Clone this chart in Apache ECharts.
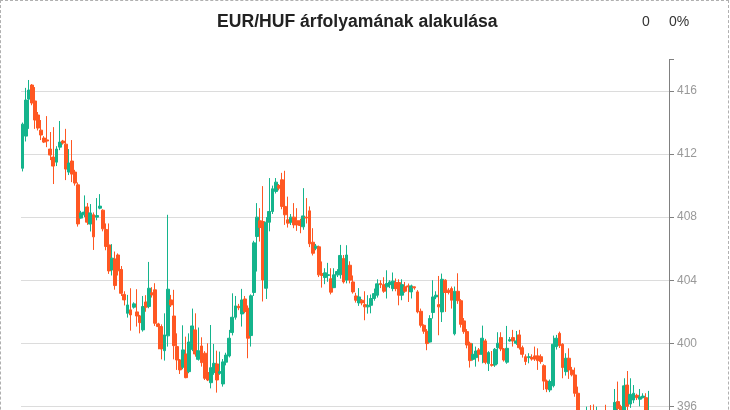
<!DOCTYPE html>
<html><head><meta charset="utf-8">
<script src="https://cdn.jsdelivr.net/npm/echarts@6/dist/echarts.min.js"></script>
<style>
html,body{margin:0;padding:0;overflow:hidden;background:#fff;}
#chart{width:729px;height:500px;box-sizing:border-box;border:1px dashed #b0b0b0;}
</style></head><body><div id="chart"></div>
<script>
const titleText = 'EUR/HUF árfolyamának alakulása';
const changeValue = '0';
const changePercent = '0%';
const yMin = 392, yMax = 418, yStep = 4;
const yTickValues = [392, 396, 400, 404, 408, 412, 416, 418];
const yLabelValues = [392, 396, 400, 404, 408, 412, 416];

const opens = [
411.1,413.14,415.49,416.38,415.37,414.48,413.52,413.02,412.9,412.32,
411.81,411.49,412.44,412.83,412.63,410.86,411.56,410.86,410.05,407.94,
408.15,408.65,407.56,408.15,408.0,408.57,408.44,407.22,406.24,404.65,
405.35,405.6,404.68,403.1,401.9,402.12,402.29,401.99,401.73,400.85,
402.62,402.33,403.2,403.39,401.23,401.06,399.53,400.47,402.75,401.73,
399.79,398.94,398.48,399.32,398.2,399.62,400.85,398.98,399.83,399.37,
398.14,397.5,398.14,398.69,398.1,397.42,398.8,399.2,400.68,401.65,
402.35,401.86,402.81,402.22,400.49,403.22,406.77,407.77,407.72,403.49,
407.68,408.36,409.63,410.01,410.37,408.68,407.83,407.68,408.0,407.77,
407.77,407.39,408.0,408.4,406.41,406.03,406.12,404.42,404.17,404.3,
404.09,403.53,404.34,404.34,405.38,404.0,404.95,403.89,403.0,402.56,
402.73,402.45,402.31,402.41,402.84,403.05,403.79,403.72,403.58,403.72,
403.47,403.85,403.85,403.05,403.58,403.64,403.26,403.58,403.26,402.03,
401.14,400.76,400.08,401.95,402.94,402.45,401.99,404.0,403.37,403.47,
400.6,403.3,402.7,401.42,400.74,400.0,398.98,399.09,399.58,399.3,
400.15,398.71,398.65,398.62,399.72,400.36,399.64,398.8,400.15,400.36,
400.0,400.53,399.72,399.15,399.09,399.1,399.2,399.2,399.15,398.58,
397.6,397.04,397.31,399.79,400.63,399.94,398.2,399.05,398.3,397.99,
396.83,395.3,395.0,395.3,395.6,395.5,395.1,395.4,395.1,395.3,
395.0,395.2,395.3,396.3,395.98,395.5,397.35,396.15,396.4,396.7,
396.45,396.55,396.55,395.2,395.5,395.0,394.6,394.9,394.4,394.0
];
const closes = [
413.9,415.43,416.06,415.24,414.16,413.65,413.21,412.76,412.83,411.94,
411.24,412.32,412.76,412.7,411.05,411.43,410.73,410.16,407.57,408.27,
408.32,407.68,408.27,406.75,408.1,408.7,407.26,406.14,404.59,405.4,
403.66,404.6,403.17,402.75,402.43,401.8,402.5,401.73,401.31,402.33,
402.29,403.49,403.07,401.27,401.06,399.64,400.53,403.43,402.43,399.85,
398.94,398.31,399.58,397.82,400.08,401.1,399.32,399.53,398.77,397.78,
397.67,398.45,398.73,397.67,398.2,398.82,399.25,400.32,401.65,402.37,
402.25,402.75,402.01,400.32,403.01,406.37,408.0,407.34,404.02,407.68,
408.36,409.8,410.22,409.84,408.68,408.15,407.62,408.0,407.51,407.51,
407.47,408.08,407.95,406.31,405.71,406.16,404.34,404.3,404.47,404.35,
403.24,404.34,404.55,405.57,403.89,405.6,404.0,403.26,402.73,402.94,
402.56,402.31,402.41,402.84,403.15,403.77,403.72,403.3,403.79,403.89,
403.94,403.47,403.05,403.72,403.3,403.58,403.64,403.52,401.99,401.14,
400.76,399.98,401.57,402.94,403.05,402.31,404.06,403.22,403.22,402.73,
403.3,402.7,401.2,400.74,399.89,398.9,399.3,399.51,399.3,400.32,
398.79,399.41,398.6,399.62,400.0,399.64,398.94,399.68,400.23,400.15,
400.15,399.72,399.3,398.84,399.15,399.0,399.0,398.9,398.84,397.6,
397.1,397.57,399.94,400.32,399.85,398.46,399.05,398.31,398.0,396.83,
395.3,395.0,395.4,395.6,395.3,395.1,395.5,395.1,394.9,395.0,
395.2,395.3,396.25,395.87,395.4,397.3,396.0,396.76,396.83,396.55,
396.6,396.65,395.5,395.6,395.0,394.6,394.9,394.4,394.0,394.3
];
const lows = [
410.9,412.8,413.6,415.1,413.6,413.5,412.89,412.7,412.44,411.62,
410.1,411.24,412.25,412.6,410.35,410.67,410.22,410.0,407.4,407.9,
408.0,407.51,407.09,405.92,407.8,408.5,407.1,405.9,404.4,404.3,
403.4,404.3,403.0,402.4,401.63,400.8,402.2,401.06,400.63,400.74,
402.0,402.22,402.9,401.1,399.62,398.98,398.9,399.79,402.3,398.98,
398.31,398.05,398.35,397.78,398.1,399.5,399.15,398.9,398.52,397.67,
397.6,397.14,398.0,396.87,398.0,397.25,398.6,399.1,400.5,401.5,
402.1,401.06,401.9,399.05,399.79,403.0,404.55,406.45,402.65,402.81,
407.1,408.2,409.5,409.7,408.5,407.51,407.34,407.5,407.3,407.13,
406.98,407.2,407.6,406.1,405.57,405.9,404.2,403.53,403.75,403.9,
403.1,403.5,404.2,404.1,403.79,403.8,403.8,403.15,402.58,402.37,
402.41,401.46,401.88,401.9,402.7,402.9,403.5,403.2,402.84,403.5,
403.3,403.3,402.41,402.73,403.2,402.62,402.84,403.4,401.9,401.0,
400.6,399.56,400.04,401.57,402.8,400.51,401.35,401.99,403.1,402.2,
400.5,402.5,401.0,400.6,399.68,398.46,398.9,398.52,398.84,398.73,
398.67,398.24,398.52,398.5,398.67,399.5,398.84,398.7,400.1,399.79,
399.9,399.6,399.09,398.62,398.73,398.9,398.88,398.31,398.7,397.04,
396.9,396.9,397.2,399.6,399.7,397.78,397.95,397.74,397.9,396.61,
395.0,394.7,394.8,395.1,395.0,394.9,394.9,394.8,394.6,394.8,
394.8,394.9,395.0,395.3,395.0,395.2,395.5,395.9,396.2,396.4,
396.0,396.5,395.2,395.0,394.7,394.3,394.4,394.1,393.7,393.8
];
const highs = [
414.0,416.2,416.7,416.44,416.25,414.67,414.16,413.14,414.41,413.4,
413.71,412.5,414.1,412.9,413.6,412.32,412.89,411.0,410.2,408.4,
409.38,408.9,408.83,408.3,409.21,409.46,408.5,407.6,407.6,406.29,
405.82,405.7,404.9,403.3,403.07,403.49,402.6,403.43,401.8,403.0,
403.05,405.16,403.56,403.81,401.3,401.2,401.9,408.15,403.07,403.39,
400.63,399.0,401.14,400.42,400.63,402.2,401.9,401.0,400.38,399.5,
400.0,401.16,399.96,399.53,399.47,399.0,399.4,400.85,403.17,403.0,
402.5,403.45,403.0,402.4,403.1,406.5,408.89,408.57,409.97,408.0,
410.48,410.0,410.48,410.1,410.81,410.94,409.3,408.2,408.89,408.57,
407.9,409.84,409.21,408.68,407.3,406.3,406.2,405.19,404.76,405.1,
404.76,404.76,404.7,406.24,405.6,406.22,405.2,404.3,403.2,403.5,
402.8,403.3,403.05,403.09,403.47,404.06,404.0,404.19,404.63,404.0,
404.49,404.11,404.06,404.06,403.89,403.79,403.72,403.6,403.37,402.2,
401.2,400.9,401.78,404.0,403.3,404.27,404.42,404.06,403.5,403.6,
403.6,404.44,402.8,401.6,400.9,400.1,400.0,399.79,399.7,401.12,
400.28,399.5,399.51,399.7,400.7,400.7,399.7,401.1,400.4,400.85,
400.78,400.85,399.85,399.3,399.37,399.3,399.79,399.68,399.3,398.67,
397.7,397.7,400.49,400.53,400.74,400.0,399.37,399.68,398.5,398.46,
397.25,395.6,395.7,395.98,396.08,396.12,395.98,395.6,395.5,396.1,
395.6,395.6,397.1,397.57,396.1,397.78,398.24,397.78,397.35,396.8,
397.1,396.83,396.83,396.98,395.6,395.2,395.3,395.1,394.6,394.6
];

// trading-day category labels
const categories = [];
(function () {
  const d = new Date(Date.UTC(2025, 0, 2));
  while (categories.length < opens.length) {
    const wd = d.getUTCDay();
    if (wd !== 0 && wd !== 6) categories.push(d.toISOString().slice(0, 10));
    d.setUTCDate(d.getUTCDate() + 1);
  }
})();

const ohlc = opens.map((o, i) => [o, closes[i], lows[i], highs[i]]);

const UP = '#14b48c', DOWN = '#ff5722';
const FONT = 'Liberation Sans, Arial, sans-serif';

const chart = echarts.init(document.getElementById('chart'), null, {renderer: 'canvas'});
chart.setOption({
  animation: false,
  textStyle: {fontFamily: FONT},
  title: {
    text: titleText, left: 216, top: 12, padding: 0,
    textStyle: {fontFamily: FONT, fontSize: 17.6, fontWeight: 'bold', color: '#222'}
  },
  graphic: [
    {type: 'text', left: 641, top: 14, style: {text: changeValue, font: '14px ' + FONT, fill: '#333'}},
    {type: 'text', left: 668, top: 14, style: {text: changePercent, font: '14px ' + FONT, fill: '#333'}}
  ],
  grid: {left: 20, right: 59, top: 58.5, bottom: 29.6, outerBoundsMode: 'none'},
  xAxis: {
    type: 'category', data: categories, boundaryGap: true,
    axisLine: {lineStyle: {color: '#888'}}, axisTick: {show: false},
    axisLabel: {color: '#999'}, splitLine: {show: false}
  },
  yAxis: {
    type: 'value', position: 'right', min: yMin, max: yMax, interval: yStep,
    axisLine: {show: true, lineStyle: {color: '#808080'}},
    axisTick: {show: true, length: 5, customValues: yTickValues, lineStyle: {color: '#808080'}},
    axisLabel: {color: '#999', fontSize: 12, margin: 8, customValues: yLabelValues, fontFamily: FONT},
    splitLine: {show: true, showMaxLine: false, lineStyle: {color: '#dcdcdc'}}
  },
  series: [{
    type: 'candlestick', data: ohlc, barWidth: 3.4,
    itemStyle: {color: UP, color0: DOWN, borderColor: UP, borderColor0: DOWN, borderColorDoji: UP, borderWidth: 1}
  }]
});
</script></body></html>
